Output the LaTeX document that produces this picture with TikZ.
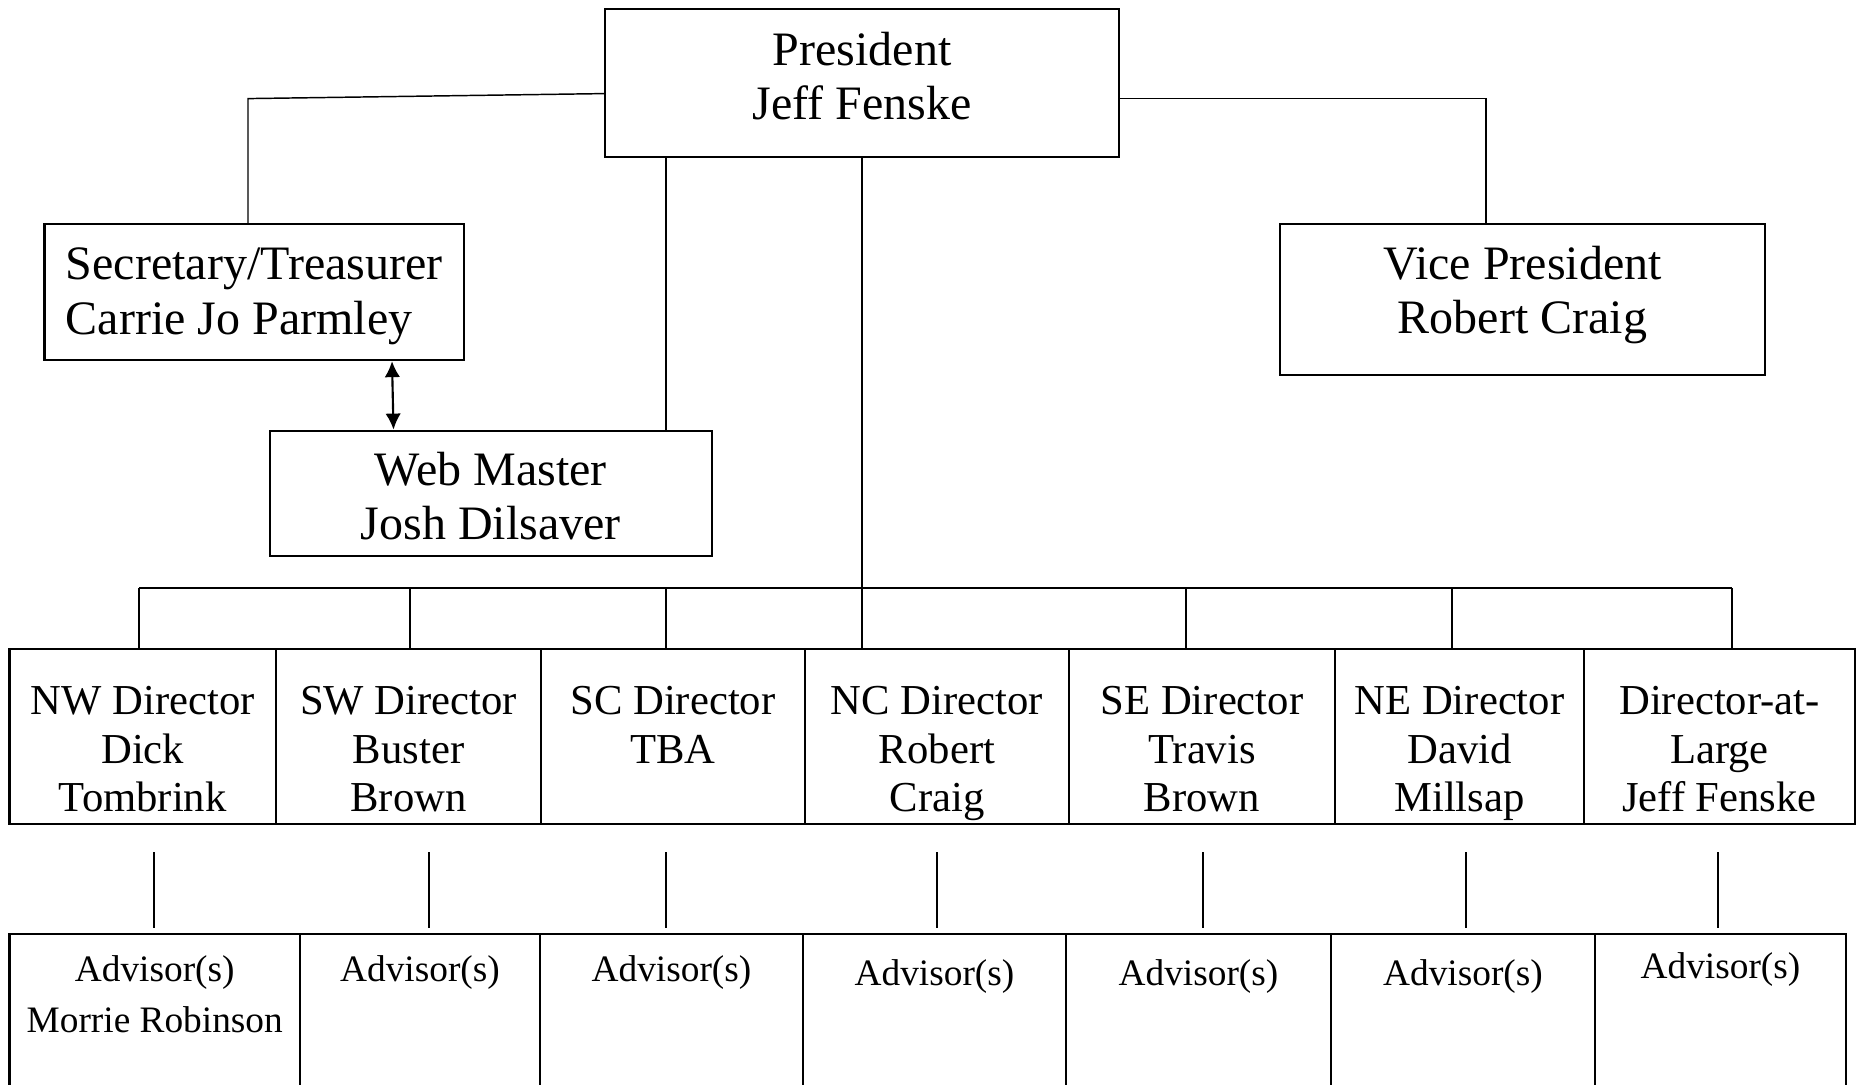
\documentclass[tikz,border=0pt]{standalone}
\usepackage{fontspec}
\setmainfont{Liberation Serif}
\usetikzlibrary{arrows.meta}
\setlength{\tabcolsep}{2pt}

\begin{document}
\begin{tikzpicture}[x=0.375pt,y=-0.375pt,line width=0.55pt,
  box/.style={rectangle,draw,line width=0.8pt,anchor=north,inner sep=0pt},
  topbox/.style={box,font=\fontsize{18pt}{20.4pt}\selectfont},
  dirbox/.style={box,font=\fontsize{16pt}{18.2pt}\selectfont,text height=24.6pt,text depth=41pt},
  advbox/.style={box,font=\fontsize{14pt}{19.1pt}\selectfont,text height=18pt,text depth=75pt},
  >={Latex[length=6pt,width=5.8pt]}]
\useasboundingbox (0,0) rectangle (1860,1084);
\clip (0,0) rectangle (1860,1084);

% officers
\node [topbox,minimum width=192.75pt,text height=21pt,text depth=34.5pt] (pres) at (862,8) {\begin{tabular}[t]{c}President\\Jeff Fenske\end{tabular}};
\node [topbox,minimum width=157.2pt,text height=20.85pt,text depth=30.15pt] (sec) at (254.15,223) {\begin{tabular}[t]{l}Secretary/Treasurer\\Carrie Jo Parmley\end{tabular}};
\node [topbox,minimum width=165.6pt,text height=20.4pt,text depth=26.6pt] (web) at (490.85,429.6) {\begin{tabular}[t]{c}Web Master\\Josh Dilsaver\end{tabular}};
\node [topbox,minimum width=181.9pt,text height=20.6pt,text depth=36pt] (vp) at (1522.5,223) {\begin{tabular}[t]{c}Vice President\\Robert Craig\end{tabular}};

% directors
\node [dirbox,minimum width=99.9pt] (nw) at (142.75,648) {\begin{tabular}[t]{c}NW Director\\Dick\\Tombrink\end{tabular}};
\node [dirbox,minimum width=99.4pt] (sw) at (408.5,648) {\begin{tabular}[t]{c}SW Director\\Buster\\Brown\end{tabular}};
\node [dirbox,minimum width=99pt] (sc) at (673,648) {\begin{tabular}[t]{c}SC Director\\TBA\end{tabular}};
\node [dirbox,minimum width=99pt] (nc) at (937,648) {\begin{tabular}[t]{c}NC Director\\Robert\\Craig\end{tabular}};
\node [dirbox,minimum width=99.75pt] (se) at (1202,648) {\begin{tabular}[t]{c}SE Director\\Travis\\Brown\end{tabular}};
\node [dirbox,minimum width=93.4pt] (ne) at (1459.5,648) {\begin{tabular}[t]{c}NE Director\\David\\Millsap\end{tabular}};
\node [dirbox,minimum width=101.6pt] (al) at (1719.5,648) {\begin{tabular}[t]{c}Director-at-\\Large\\Jeff Fenske\end{tabular}};

% advisors
\node [advbox,minimum width=108.9pt] (nwadv) at (154.75,932.6) {\begin{tabular}[t]{c}Advisor(s)\\Morrie Robinson\end{tabular}};
\node [advbox,minimum width=90pt] (swadv) at (420,932.6) {Advisor(s)};
\node [advbox,minimum width=98.6pt] (scadv) at (671.5,932.6) {Advisor(s)};
\node [advbox,minimum width=98.6pt,text height=19.3pt] (ncadv) at (934.5,932.6) {Advisor(s)};
\node [advbox,minimum width=99.4pt,text height=19.3pt] (seadv) at (1198.5,932.6) {Advisor(s)};
\node [advbox,minimum width=99pt,text height=19.3pt] (neadv) at (1463,932.6) {Advisor(s)};
\node [advbox,minimum width=94.1pt,text height=16.8pt] (aladv) at (1720.5,932.6) {Advisor(s)};

% officer links
\coordinate (secturn) at (248,98.6);
\coordinate (vpturn) at (1486,98.6);
\draw (pres.west |- 0,93.6) -- (secturn) -- (secturn |- sec.north);
\draw (pres.east |- vpturn) -- (vpturn) -- (vpturn |- vp.north);
\draw (pres.south -| 666,0) -- (web.north -| 666,0);
\draw [<->,line width=0.8pt] (sec.south -| 392,0) -- (web.north -| 393.5,0);

% director bus
\coordinate (busl) at (139,588);
\coordinate (busr) at (1732,588);
\draw (pres.south) -- (pres.south |- busl);
\draw (busl) -- (busr);
\foreach \n/\x in {nw/139,sw/410,sc/666,nc/862,se/1186,ne/1452,al/1732}
  \draw (\x,588) -- (\x,588 |- \n.north);

% advisor ticks
\foreach \n/\x in {nw/154,sw/429,sc/666,nc/937,se/1203,ne/1466,al/1718} {
  \coordinate (\n tick) at (\x,852);
  \draw (\n tick) -- ++(0,76);
}
\end{tikzpicture}
\end{document}
